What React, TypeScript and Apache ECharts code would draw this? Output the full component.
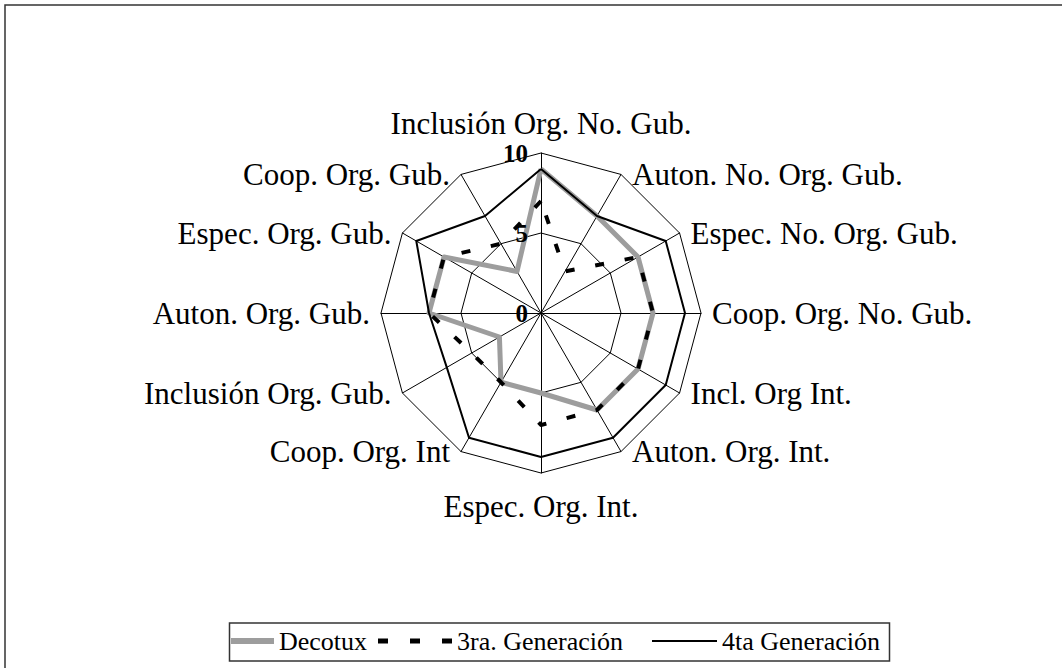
import React, { useEffect, useRef } from "react";
import * as echarts from "echarts";

// Categories in clockwise order, starting at the top
const categories = [
  "Inclusión Org. No. Gub.",
  "Auton. No. Org. Gub.",
  "Espec. No. Org. Gub.",
  "Coop. Org. No. Gub.",
  "Incl. Org Int.",
  "Auton. Org. Int.",
  "Espec. Org. Int.",
  "Coop. Org. Int",
  "Inclusión Org. Gub.",
  "Auton. Org. Gub.",
  "Espec. Org. Gub.",
  "Coop. Org. Gub.",
];

const decotux = [9, 7, 7, 7, 7, 7, 5, 5, 3, 7, 7, 3];
const tercera = [7, 3, 7, 7, 7, 7, 7, 5, 5, 7, 7, 5];
const cuarta = [9, 7, 9, 9, 9, 9, 9, 9, 6.8, 7, 9, 7];

const seriesNames = ["Decotux", "3ra. Generación", "4ta Generación"];
const axisMax = 10;
const axisSplits = 2;

const FONT = "'Liberation Serif', 'Times New Roman', serif";

// ECharts radar runs counter-clockwise; reorder clockwise data
const ccw = (arr: any[]) => [arr[0], ...arr.slice(1).reverse()];

export default function App() {
  const ref = useRef<HTMLDivElement>(null);

  useEffect(() => {
    if (!ref.current) return;
    const chart = echarts.init(ref.current, null, { renderer: "svg" });
    const n = categories.length;

    const labelStyle = {
      fontSize: 25,
      fontWeight: "bold",
      color: "#000",
      fontFamily: FONT,
      margin: 13,
    };

    const indicatorsCW = categories.map((name, i) => {
      const ind: any = { name, max: axisMax, min: 0 };
      if (i === 0) {
        ind.nameGap = 14;
        ind.nameTextStyle = { align: "center", verticalAlign: "bottom" };
      } else if (i === n / 2) {
        ind.nameGap = 18;
        ind.nameTextStyle = { align: "center", verticalAlign: "top" };
      } else if (i < n / 2) {
        ind.nameGap = 0;
        ind.nameTextStyle = { align: "left", verticalAlign: "middle", padding: [0, 0, 0, 11] };
      } else {
        ind.nameGap = 0;
        ind.nameTextStyle = { align: "right", verticalAlign: "middle", padding: [0, 11, 0, 0] };
      }
      return ind;
    });

    // overlay radar only for the tick labels on the top axis (drawn above the lines)
    const labelIndicatorsCW = categories.map((name, i) => {
      const ind: any = { name, max: axisMax, min: 0 };
      if (i === 0) ind.axisLabel = { show: true, ...labelStyle };
      return ind;
    });

    const legendCommon = {
      top: 628,
      padding: 0,
      selectedMode: false,
      itemStyle: { borderWidth: 0 },
      textStyle: { fontSize: 26, color: "#000", fontFamily: FONT },
    };

    const option: any = {
      animation: false,
      backgroundColor: "#fff",
      textStyle: { fontFamily: FONT },
      radar: [
        {
          center: [541, 313],
          radius: 160,
          startAngle: 90,
          shape: "polygon",
          splitNumber: axisSplits,
          indicator: ccw(indicatorsCW),
          axisName: { color: "#000", fontSize: 31, fontFamily: FONT },
          splitLine: { lineStyle: { color: "#000", width: 1 } },
          splitArea: { show: false },
          axisLine: { lineStyle: { color: "#000", width: 1 } },
          axisTick: { show: false },
          axisLabel: { show: false },
        },
        {
          z: 10,
          center: [541, 313],
          radius: 160,
          startAngle: 90,
          shape: "polygon",
          splitNumber: axisSplits,
          indicator: ccw(labelIndicatorsCW),
          axisName: { show: false },
          splitLine: { show: false },
          splitArea: { show: false },
          axisLine: { show: false },
          axisTick: { show: false },
          axisLabel: { show: false, ...labelStyle },
        },
      ],
      legend: [
        {
          ...legendCommon,
          left: 231,
          data: [{ name: seriesNames[0], icon: "rect" }],
          itemWidth: 43,
          itemHeight: 6,
        },
        {
          ...legendCommon,
          left: 378,
          data: [
            {
              name: seriesNames[1],
              icon: "path://M0,0h10v5h-10z M32,0h10v5h-10z M64,0h10v5h-10z",
            },
          ],
          itemWidth: 74,
          itemHeight: 5,
        },
        {
          ...legendCommon,
          left: 652,
          data: [{ name: seriesNames[2], icon: "rect" }],
          itemWidth: 65,
          itemHeight: 2,
        },
      ],
      graphic: [
        {
          type: "rect",
          silent: true,
          z: -10,
          shape: { x: 5, y: 5, width: 1100, height: 700 },
          style: { fill: "none", stroke: "#333", lineWidth: 1.5 },
        },
        {
          type: "rect",
          silent: true,
          z: -10,
          shape: { x: 229.5, y: 623, width: 660, height: 38 },
          style: { fill: "none", stroke: "#333", lineWidth: 1.5 },
        },
      ],
      series: [
        {
          type: "radar",
          radarIndex: 0,
          symbol: "none",
          data: [
            {
              name: seriesNames[0],
              value: ccw(decotux),
              itemStyle: { color: "#9d9d9d" },
              lineStyle: { color: "#9d9d9d", width: 5 },
            },
            {
              name: seriesNames[1],
              value: ccw(tercera),
              itemStyle: { color: "#000" },
              lineStyle: { color: "#000", width: 4, type: [9, 21] },
            },
            {
              name: seriesNames[2],
              value: ccw(cuarta),
              itemStyle: { color: "#000" },
              lineStyle: { color: "#000", width: 2 },
            },
          ],
        },
      ],
    };

    chart.setOption(option);
    return () => chart.dispose();
  }, []);

  return (
    <div
      ref={ref}
      style={{
        position: "fixed",
        left: 0,
        top: 0,
        width: 1062,
        height: 668,
        background: "#fff",
      }}
    />
  );
}
